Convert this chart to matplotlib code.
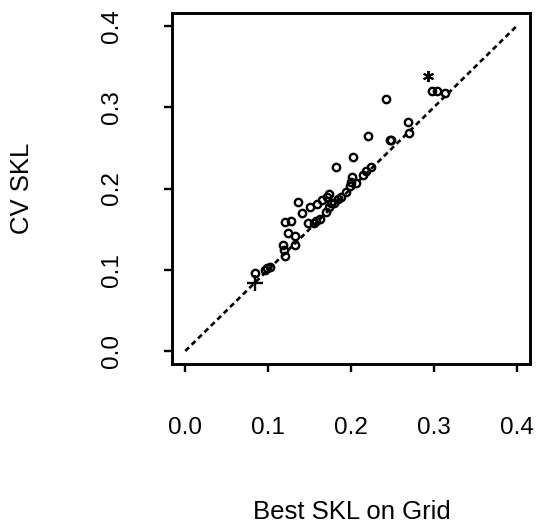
import matplotlib
matplotlib.use("Agg")
import matplotlib.pyplot as plt

plt.rcParams['font.family'] = ['Liberation Sans', 'DejaVu Sans']

best_skl = [0.084, 0.096, 0.099, 0.102, 0.120, 0.119, 0.118, 0.132, 0.124, 0.133,
            0.120, 0.128, 0.136, 0.141, 0.148, 0.155, 0.1575, 0.151, 0.159, 0.163,
            0.1655, 0.171, 0.1735, 0.1695, 0.1735, 0.176, 0.1815, 0.180, 0.1845, 0.188,
            0.1945, 0.1985, 0.2005, 0.2025, 0.2015, 0.2065, 0.2145, 0.2185, 0.2245, 0.2205,
            0.2419, 0.2467, 0.2487, 0.269, 0.270, 0.2977, 0.3037, 0.313]
cv_skl = [0.0965, 0.100, 0.102, 0.103, 0.117, 0.124, 0.1305, 0.1305, 0.1457, 0.142,
          0.159, 0.160, 0.184, 0.170, 0.158, 0.158, 0.1605, 0.177, 0.181, 0.163,
          0.186, 0.190, 0.193, 0.1716, 0.177, 0.182, 0.226, 0.182, 0.187, 0.190,
          0.196, 0.203, 0.2085, 0.2385, 0.2147, 0.2065, 0.2167, 0.222, 0.226, 0.2648,
          0.310, 0.260, 0.260, 0.2817, 0.268, 0.3206, 0.3206, 0.318]
plus_point = (0.0838, 0.0833)
star_point = (0.293, 0.338)
ref_line = [0.0, 0.4]
ticks = [0.0, 0.1, 0.2, 0.3, 0.4]
tick_labels = ["0.0", "0.1", "0.2", "0.3", "0.4"]

W, H = 540, 532
fig = plt.figure(figsize=(W/100, H/100), dpi=100)
ax = fig.add_axes([172/W, 1 - 364/H, (530-172)/W, (364-13)/H])

ax.plot(ref_line, ref_line, color='black', lw=1.9, linestyle=(0, (2.0, 1.4)))
ax.plot(best_skl, cv_skl, linestyle='none', marker='o', ms=5.3, mfc='none',
        mec='black', mew=1.7)
ax.plot([plus_point[0]], [plus_point[1]], linestyle='none', marker='+', ms=11,
        mec='black', mew=1.7)
ax.plot([star_point[0]], [star_point[1]], linestyle='none', marker=(6, 2, 0), ms=8,
        mec='black', mew=1.4)

ax.set_xlim(-0.016, 0.416)
ax.set_ylim(-0.016, 0.416)
ax.set_xticks(ticks)
ax.set_xticklabels(tick_labels)
ax.set_yticks(ticks)
ax.set_yticklabels(tick_labels, rotation=90, va='center')

for s in ax.spines.values():
    s.set_linewidth(2.1)
ax.tick_params(direction='out', length=5.8, width=1.7, labelsize=17.5)
ax.tick_params(axis='x', pad=32)
ax.tick_params(axis='y', pad=29.5)

fig.text(352/W, 1 - 512/H, "Best SKL on Grid", ha='center', va='center', fontsize=18.5)
fig.text(22.5/W, 1 - 188/H, "CV SKL", ha='center', va='center', rotation=90, fontsize=18.5)

fig.savefig("out.png", dpi=100)
